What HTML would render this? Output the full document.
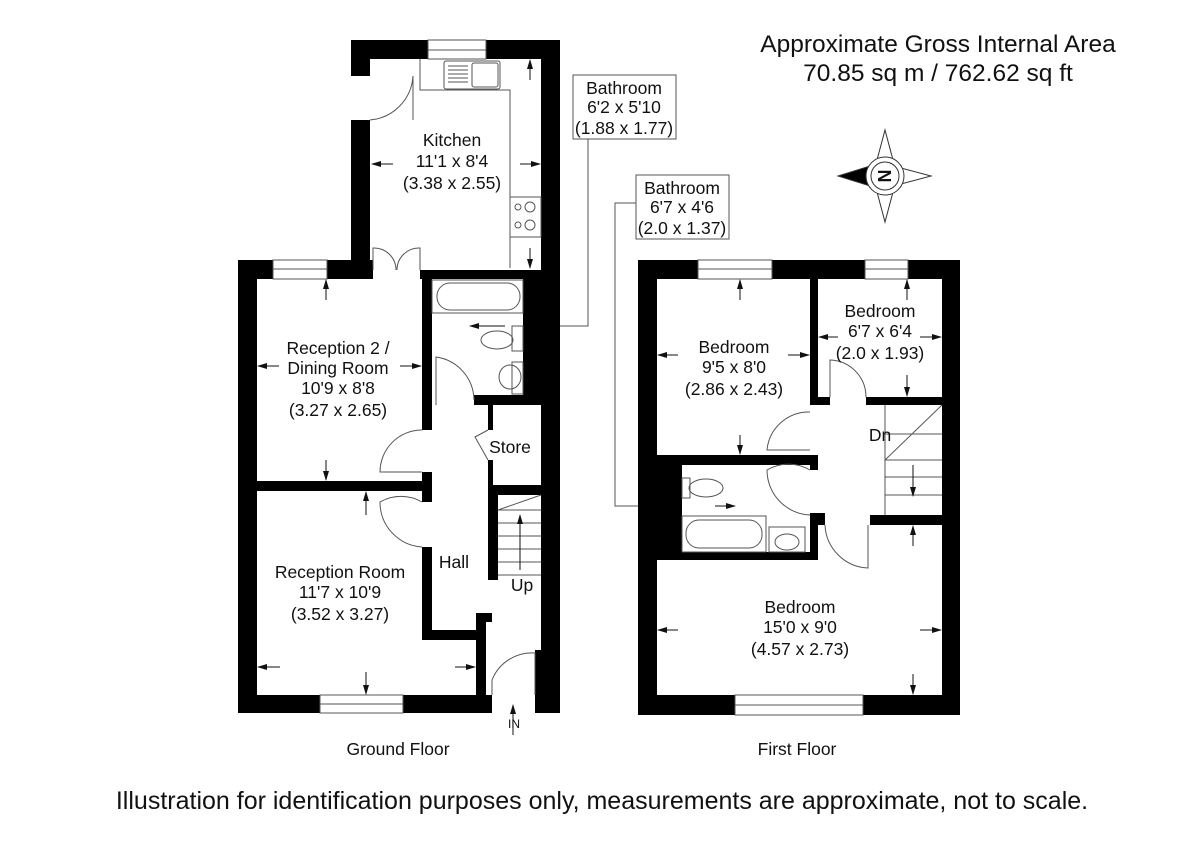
<!DOCTYPE html>
<html><head><meta charset="utf-8"><style>
html,body{margin:0;padding:0;background:#fff;width:1200px;height:849px;overflow:hidden}
svg{display:block}
text{font-family:"Liberation Sans",Arial,sans-serif;fill:#111}
.t{font-size:17.5px;text-anchor:middle}
.ln{stroke:#555;stroke-width:1;fill:none}
.fx{stroke:#555;stroke-width:1;fill:#fff}
.ar{stroke:#111;stroke-width:1;fill:none}
</style></head><body>
<svg width="1200" height="849" viewBox="0 0 1200 849" xmlns="http://www.w3.org/2000/svg">
<defs>
<marker id="a" markerWidth="10" markerHeight="8" refX="9" refY="4" orient="auto" markerUnits="userSpaceOnUse"><path d="M0,1 L10,4 L0,7 Z" fill="#111"/></marker>
</defs>
<text x="938" y="52" style="font-size:24.5px" text-anchor="middle">Approximate Gross Internal Area</text>
<text x="938" y="81" style="font-size:24.5px" text-anchor="middle">70.85 sq m / 762.62 sq ft</text>

<!-- compass -->
<g stroke="#333" stroke-width="1" fill="#fff">
<path d="M885,130 L893,160 L877,160 Z"/><path d="M885,222 L893,192 L877,192 Z"/>
<path d="M931,176 L901,168 L901,184 Z"/>
<path d="M838,176 L870,166 L870,186 Z" fill="#000"/>
<circle cx="885" cy="176" r="19"/><circle cx="885" cy="176" r="14"/>
</g>
<text x="885" y="182" style="font-size:18px;font-weight:bold" text-anchor="middle" transform="rotate(-90 885 176)">N</text>

<!-- GROUND FLOOR walls -->
<g fill="#000">
<rect x="351" y="40" width="77" height="19"/><rect x="486" y="40" width="74" height="19"/>
<rect x="351" y="40" width="19" height="36"/>
<rect x="351" y="120" width="19" height="159"/>
<rect x="238" y="260" width="35" height="19"/><rect x="327" y="260" width="46" height="19"/>
<rect x="420" y="270" width="121" height="9"/>
<rect x="541" y="40" width="19" height="673"/>
<rect x="523" y="279" width="37" height="126"/>
<rect x="238" y="260" width="19" height="453"/>
<rect x="422" y="279" width="10" height="151"/>
<rect x="422" y="472" width="10" height="30"/>
<rect x="257" y="481" width="175" height="10"/>
<rect x="422" y="547" width="10" height="93"/>
<rect x="422" y="630" width="56" height="10"/>
<rect x="476" y="613" width="10" height="82"/><rect x="476" y="613" width="16" height="9"/>
<rect x="238" y="695" width="82" height="18"/><rect x="403" y="695" width="89" height="18"/>
<rect x="535" y="650" width="25" height="63"/>
<rect x="474" y="395" width="86" height="10"/>
<rect x="488" y="405" width="5" height="25"/><rect x="488" y="460" width="5" height="25"/>
<rect x="488" y="485" width="53" height="10"/>
<rect x="488" y="495" width="10" height="85"/>
</g>
<!-- windows ground -->
<g class="ln"><rect x="428" y="40" width="58" height="19"/><line x1="428" y1="50" x2="486" y2="50"/>
<rect x="273" y="260" width="54" height="19"/><line x1="273" y1="269" x2="327" y2="269"/>
<rect x="320" y="695" width="83" height="18"/><line x1="320" y1="704" x2="403" y2="704"/></g>
<!-- kitchen fixtures -->
<g class="ln">
<path d="M420,59 L420,90 L510,90 L510,268"/>
<rect x="444" y="61" width="56" height="28" rx="2"/><rect x="472" y="63" width="26" height="24" rx="2"/>
<path d="M448,66h20M448,70h20M448,74h20M448,78h20M448,82h20"/>
<rect x="510" y="197" width="31" height="40"/>
<circle cx="518" cy="207" r="3"/><circle cx="530" cy="207" r="5"/><circle cx="518" cy="225" r="3"/><circle cx="530" cy="225" r="5"/>
<path d="M370,120 A47,47 0 0 0 413,76"/><line x1="413" y1="76" x2="413" y2="120"/>
<path d="M373,270 L373,248 A22,22 0 0 1 396,270"/><path d="M420,270 L420,248 A22,22 0 0 0 397,270"/>
<!-- bathroom -->
<rect x="432" y="280" width="91" height="33"/><rect x="437" y="283" width="83" height="27" rx="13"/>
<rect x="512" y="326" width="11" height="25"/><ellipse cx="497" cy="340" rx="16" ry="9"/>
<rect x="512" y="362" width="11" height="32"/><ellipse cx="510" cy="377" rx="11" ry="12"/>
<path d="M436,405 L436,357 A44,44 0 0 1 474,400"/>
<!-- doors -->
<path d="M422,430 A42,42 0 0 0 380,472 L422,472"/>
<path d="M422,502 A42,42 0 0 0 380,502 A45,45 0 0 0 422,547"/>
<path d="M488,430 L475,437 L488,460"/>
<path d="M492,695 L492,680 A43,43 0 0 1 535,653 L535,695"/>
<!-- stairs -->
<path d="M498,510 L541,495 M498,510h43M498,523h43M498,536h43M498,549h43M498,562h43M498,575h43"/>
</g>
<g class="ar">
<line x1="520" y1="570" x2="520" y2="515" marker-end="url(#a)"/>
<line x1="513" y1="735" x2="513" y2="705" marker-end="url(#a)"/>
<line x1="530" y1="80" x2="530" y2="60" marker-end="url(#a)"/>
<line x1="530" y1="248" x2="530" y2="268" marker-end="url(#a)"/>
<line x1="393" y1="164" x2="372" y2="164" marker-end="url(#a)"/>
<line x1="520" y1="164" x2="540" y2="164" marker-end="url(#a)"/>
<line x1="326" y1="300" x2="326" y2="280" marker-end="url(#a)"/>
<line x1="279" y1="366" x2="258" y2="366" marker-end="url(#a)"/>
<line x1="400" y1="366" x2="421" y2="366" marker-end="url(#a)"/>
<line x1="326" y1="460" x2="326" y2="480" marker-end="url(#a)"/>
<line x1="366" y1="515" x2="366" y2="492" marker-end="url(#a)"/>
<line x1="280" y1="667" x2="258" y2="667" marker-end="url(#a)"/>
<line x1="455" y1="667" x2="475" y2="667" marker-end="url(#a)"/>
<line x1="366" y1="672" x2="366" y2="694" marker-end="url(#a)"/>
<line x1="505" y1="326" x2="470" y2="326" marker-end="url(#a)"/>
</g>
<text class="t" x="452" y="146">Kitchen</text>
<text class="t" x="452" y="167">11'1 x 8'4</text>
<text class="t" x="452" y="189">(3.38 x 2.55)</text>
<text class="t" x="338" y="354">Reception 2 /</text>
<text class="t" x="338" y="374">Dining Room</text>
<text class="t" x="338" y="394">10'9 x 8'8</text>
<text class="t" x="338" y="416">(3.27 x 2.65)</text>
<text class="t" x="510" y="453">Store</text>
<text class="t" x="454" y="568">Hall</text>
<text class="t" x="522" y="591">Up</text>
<text class="t" x="340" y="578">Reception Room</text>
<text class="t" x="340" y="598">11'7 x 10'9</text>
<text class="t" x="340" y="620">(3.52 x 3.27)</text>
<text x="514" y="728" style="font-size:12px" text-anchor="middle">IN</text>
<text class="t" x="398" y="755">Ground Floor</text>

<!-- callouts -->
<rect class="fx" x="573" y="75" width="103" height="64"/>
<text class="t" x="624" y="94">Bathroom</text><text class="t" x="624" y="113">6'2 x 5'10</text><text class="t" x="624" y="134">(1.88 x 1.77)</text>
<path class="ln" d="M588,139 L588,326 L560,326"/>
<rect class="fx" x="636" y="175" width="93" height="64"/>
<text class="t" x="682" y="194">Bathroom</text><text class="t" x="682" y="213">6'7 x 4'6</text><text class="t" x="682" y="234">(2.0 x 1.37)</text>
<path class="ln" d="M636,203 L615,203 L615,506 L638,506"/>

<!-- FIRST FLOOR walls -->
<g fill="#000">
<rect x="638" y="260" width="60" height="19"/><rect x="772" y="260" width="93" height="19"/><rect x="908" y="260" width="52" height="19"/>
<rect x="638" y="260" width="19" height="455"/><rect x="942" y="260" width="18" height="455"/>
<rect x="638" y="695" width="97" height="20"/><rect x="863" y="695" width="97" height="20"/>
<rect x="810" y="279" width="8" height="126"/><rect x="810" y="397" width="20" height="8"/>
<rect x="866" y="397" width="76" height="8"/>
<rect x="657" y="455" width="161" height="10"/><rect x="810" y="455" width="8" height="15"/>
<rect x="657" y="465" width="25" height="95"/>
<rect x="657" y="552" width="161" height="8"/>
<rect x="810" y="513" width="15" height="12"/><rect x="810" y="513" width="8" height="47"/>
<rect x="870" y="515" width="72" height="10"/>
</g>
<g class="ln">
<rect x="698" y="260" width="74" height="19"/><line x1="698" y1="269" x2="772" y2="269"/>
<rect x="865" y="260" width="43" height="19"/><line x1="865" y1="269" x2="908" y2="269"/>
<rect x="735" y="695" width="128" height="20"/><line x1="735" y1="705" x2="863" y2="705"/>
<!-- fixtures -->
<rect x="682" y="478" width="8" height="20"/><ellipse cx="706" cy="488" rx="17" ry="9"/>
<rect x="682" y="516" width="84" height="36"/><rect x="686" y="520" width="76" height="28" rx="13"/>
<rect x="769" y="527" width="36" height="25"/><ellipse cx="787" cy="542" rx="12" ry="8"/>
<!-- doors -->
<path d="M830,397 L830,360 A37,37 0 0 1 866,397"/>
<path d="M810,412 A42,42 0 0 0 767,450 L810,450"/>
<path d="M810,470 A42,42 0 0 0 767,470 A45,45 0 0 0 810,515"/>
<path d="M825,525 A45,45 0 0 0 868,568 L868,525"/>
<!-- stairs -->
<path d="M885,405 L885,515 M885,460 L942,405 M885,434h57M885,460h57M885,477h57M885,495h57"/>
</g>
<g class="ar">
<line x1="740" y1="300" x2="740" y2="280" marker-end="url(#a)"/>
<line x1="678" y1="355" x2="658" y2="355" marker-end="url(#a)"/>
<line x1="788" y1="355" x2="809" y2="355" marker-end="url(#a)"/>
<line x1="740" y1="435" x2="740" y2="454" marker-end="url(#a)"/>
<line x1="907" y1="300" x2="907" y2="280" marker-end="url(#a)"/>
<line x1="838" y1="337" x2="819" y2="337" marker-end="url(#a)"/>
<line x1="920" y1="337" x2="941" y2="337" marker-end="url(#a)"/>
<line x1="907" y1="375" x2="907" y2="396" marker-end="url(#a)"/>
<line x1="913" y1="465" x2="913" y2="496" marker-end="url(#a)"/>
<line x1="715" y1="506" x2="735" y2="506" marker-end="url(#a)"/>
<line x1="913" y1="546" x2="913" y2="526" marker-end="url(#a)"/>
<line x1="678" y1="630" x2="658" y2="630" marker-end="url(#a)"/>
<line x1="920" y1="630" x2="941" y2="630" marker-end="url(#a)"/>
<line x1="913" y1="674" x2="913" y2="694" marker-end="url(#a)"/>
</g>
<text class="t" x="734" y="353">Bedroom</text>
<text class="t" x="734" y="373">9'5 x 8'0</text>
<text class="t" x="734" y="395">(2.86 x 2.43)</text>
<text class="t" x="880" y="317">Bedroom</text>
<text class="t" x="880" y="337">6'7 x 6'4</text>
<text class="t" x="880" y="359">(2.0 x 1.93)</text>
<text class="t" x="880" y="441">Dn</text>
<text class="t" x="800" y="613">Bedroom</text>
<text class="t" x="800" y="633">15'0 x 9'0</text>
<text class="t" x="800" y="655">(4.57 x 2.73)</text>
<text class="t" x="797" y="755">First Floor</text>

<text x="602" y="809" style="font-size:25px" text-anchor="middle">Illustration for identification purposes only, measurements are approximate, not to scale.</text>
</svg>
</body></html>
